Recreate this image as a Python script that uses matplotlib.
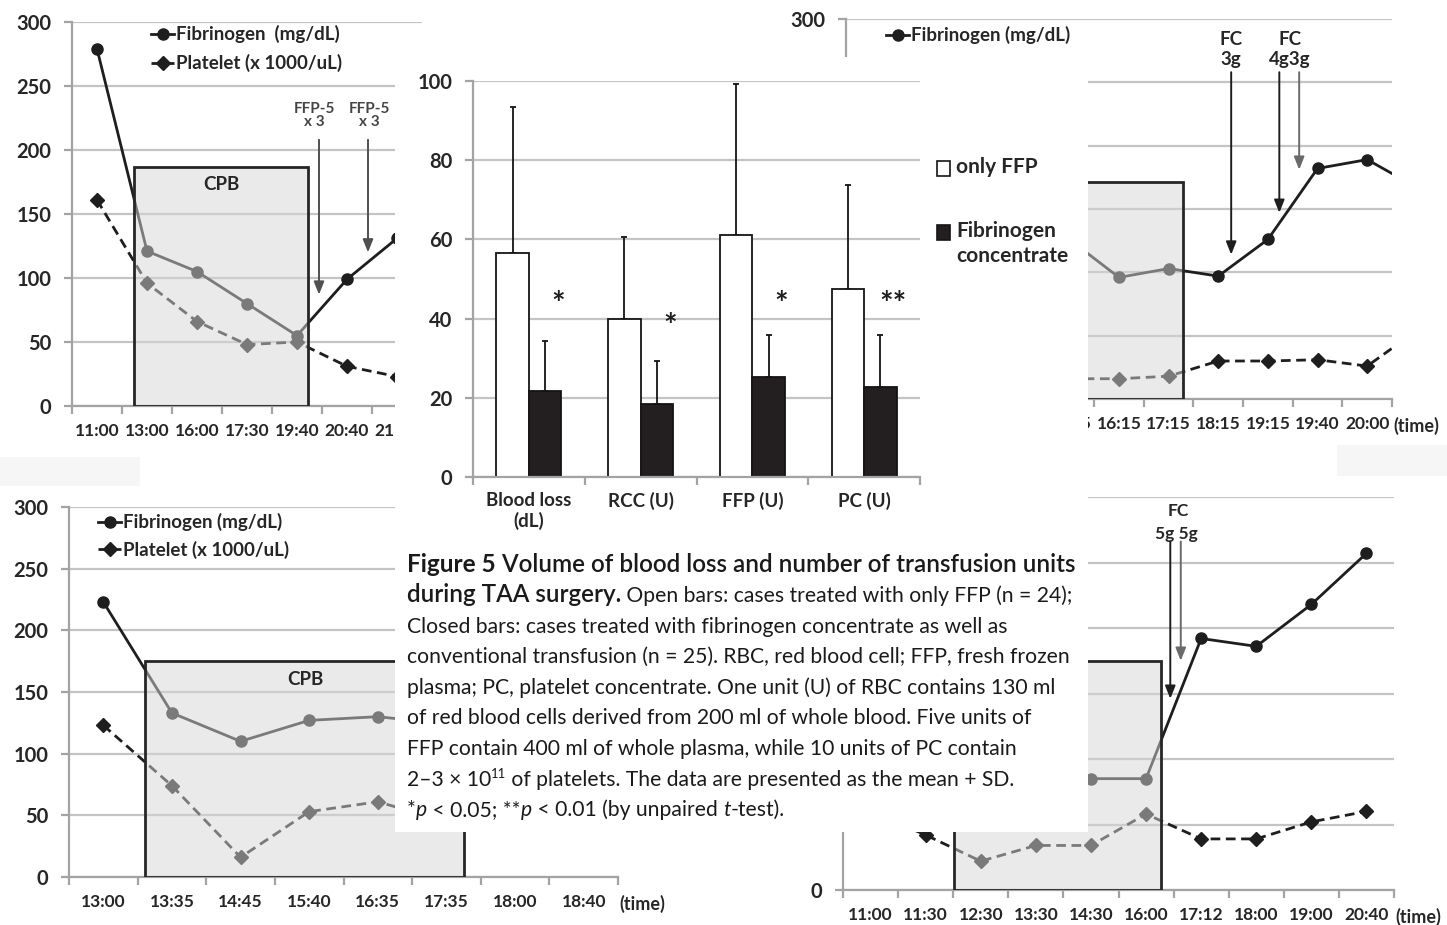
import numpy as np
import matplotlib
matplotlib.use("Agg")
import matplotlib.pyplot as plt
from matplotlib.patches import Rectangle

nan = np.nan
W, H, DPI = 1447, 925, 100

# ---------------- data ----------------
# Panel A (top-left)
a_times = ["11:00", "13:00", "16:00", "17:30", "19:40", "20:40", "21:00"]
a_fib = [279, 121, 105, 80, 55, 99, 131]
a_plt = [161, 96, 66, 48, 50, 31, 23]

# Panel B (top-right); first categories hidden behind the centre figure
b_times = ["", "", "", "", "15:15", "16:15", "17:15", "18:15", "19:15", "19:40", "20:00", ""]
b_fib = [nan, nan, nan, nan, 126, 96, 103, 97, 126, 182, 189, 167]
b_plt = [nan, nan, nan, nan, 16, 16, 18, 30, 30, 31, 26, 54]

# Panel C (bottom-left)
c_times = ["13:00", "13:35", "14:45", "15:40", "16:35", "17:35", "18:00", "18:40"]
c_fib = [223, 133, 110, 127, 130, 124, nan, nan]
c_plt = [123, 74, 16, 53, 61, 45, nan, nan]

# Panel D (bottom-right)
d_times = ["11:00", "11:30", "12:30", "13:30", "14:30", "16:00", "17:12", "18:00", "19:00", "20:40"]
d_fib = [nan, nan, nan, 85, 85, 85, 192, 186, 218, 257]
d_plt = [60, 42, 22, 34, 34, 58, 39, 39, 52, 60]

y_ticks = [0, 50, 100, 150, 200, 250, 300]

# Centre bar chart
bar_cats = ["Blood loss\n(dL)", "RCC (U)", "FFP (U)", "PC (U)"]
ffp_mean = [56.6, 40.0, 61.2, 47.5]
ffp_sd = [36.9, 20.5, 38.0, 26.2]
fc_mean = [21.8, 18.4, 25.3, 22.8]
fc_sd = [12.5, 10.9, 10.6, 13.1]
sig_marks = ["*", "*", "*", "**"]
sig_y = [45, 39.5, 45, 45]
bar_y_ticks = [0, 20, 40, 60, 80, 100]
series_labels = ["only FFP", "Fibrinogen\nconcentrate"]

# ---------------- style ----------------
plt.rcParams['font.family'] = ['Lato', 'DejaVu Sans']
GRID = '#c4c4c4'
SPINE = '#a3a3a3'
INK = '#1e1e1e'
TXT = '#262626'

fig = plt.figure(figsize=(W / DPI, H / DPI), dpi=DPI, facecolor='white')


def add_ax(l, t, r, b):
    return fig.add_axes([l / W, 1 - b / H, (r - l) / W, (b - t) / H])


def line_panel(ax, times, fib, plat, nvis, cpb, cpb_text=None, fib_label="Fibrinogen (mg/dL)",
               legend_xy=None, legend_spacing=0.8, show_plt_legend=True, ylab_show=None):
    x = np.arange(len(times))
    ax.set_xlim(-0.5, nvis - 0.5)
    ax.set_ylim(0, 300)
    ax.set_yticks(y_ticks, labels=[str(v) for v in y_ticks], fontweight='bold', color=TXT,
                  fontsize=14.5)
    ax.grid(axis='y', color=GRID, lw=1.6, zorder=0)
    ax.set_axisbelow(True)
    for s in ['top', 'right']:
        ax.spines[s].set_visible(False)
    for s in ['left', 'bottom']:
        ax.spines[s].set_color(SPINE)
        ax.spines[s].set_linewidth(1.6)
    ax.set_xticks(x[:nvis], labels=times[:nvis], fontweight='bold', color=TXT, fontsize=12.5)
    ax.set_xticks(np.arange(-0.5, nvis), minor=True)
    ax.tick_params(axis='x', which='major', length=0, pad=12)
    ax.tick_params(axis='x', which='minor', length=6, width=1.6, color=SPINE)
    ax.tick_params(axis='y', length=6, width=1.6, color=SPINE, pad=9)
    if ylab_show is not None:
        for tk, v in zip(ax.yaxis.get_major_ticks(), y_ticks):
            tk.label1.set_visible(v in ylab_show)
    l1, = ax.plot(x, fib, '-o', color=INK, lw=2, ms=8, zorder=2)
    l2, = ax.plot(x, plat, '--D', color=INK, lw=2, ms=7.5, zorder=2, dashes=(3.5, 2))
    x0, x1, top = cpb
    ax.add_patch(Rectangle((x0, 0), x1 - x0, top, facecolor='#d6d6d6', alpha=0.5,
                           edgecolor='none', zorder=3))
    ax.add_patch(Rectangle((x0, 0), x1 - x0, top, fill=False, edgecolor='#262626',
                           lw=2, zorder=3.2))
    if cpb_text is not None:
        ax.text(cpb_text[0], cpb_text[1], "CPB", ha='center', va='center', fontsize=13.5,
                fontweight='bold', color=TXT, zorder=4)
    if legend_xy is not None:
        hs, ls = [l1], [fib_label]
        if show_plt_legend:
            hs.append(l2)
            ls.append("Platelet (x 1000/uL)")
        ax.legend(hs, ls, loc='upper left',
                  bbox_to_anchor=(legend_xy[0] / W, 1 - legend_xy[1] / H),
                  bbox_transform=fig.transFigure, frameon=False, borderpad=0,
                  borderaxespad=0, handlelength=1.25, handletextpad=0.1,
                  labelspacing=legend_spacing, labelcolor=TXT,
                  prop=dict(weight='bold', size=13.5))
    ax.annotate('(time)', xy=(1, 0), xycoords='axes fraction', xytext=(1, -27),
                textcoords='offset pixels', ha='left', va='center', fontsize=13,
                fontweight='bold', color=TXT, annotation_clip=False)
    return ax


def arrow(ax, x, y0, y1, color):
    ax.annotate('', xy=(x, y1), xytext=(x, y0),
                arrowprops=dict(arrowstyle='-|>,head_length=0.55,head_width=0.22',
                                color=color, lw=1.4, shrinkA=0, shrinkB=0,
                                mutation_scale=14), zorder=5)


# ---- Panel A
axA = add_ax(72, 22, 422, 406)
line_panel(axA, a_times, a_fib, a_plt, 7, (0.74, 4.22, 187), cpb_text=(2.48, 173),
           fib_label="Fibrinogen  (mg/dL)", legend_xy=(151, 25), legend_spacing=0.6)
axA.texts[-1].set_visible(False)
arrow(axA, 4.44, 208, 87, '#505050')
arrow(axA, 5.42, 208, 120, '#505050')
for xx in (4.34, 5.44):
    axA.text(xx, 227, "FFP-5\nx 3", ha='center', va='center', fontsize=11,
             fontweight='bold', color='#444', linespacing=0.95)

# ---- Panel B
axB = add_ax(846, 19, 1392, 399)
line_panel(axB, b_times, b_fib, b_plt, 11, (1.3, 6.28, 171), fib_label="Fibrinogen (mg/dL)",
           legend_xy=(886, 26), show_plt_legend=False, ylab_show=[300])
arrow(axB, 7.26, 258, 114, '#1e1e1e')
arrow(axB, 8.23, 258, 147, '#1e1e1e')
arrow(axB, 8.63, 258, 181, '#6a6a6a')
axB.text(7.26, 276, "FC\n3g", ha='center', va='center', fontsize=13.5, fontweight='bold',
         color=TXT, linespacing=1.25)
axB.text(8.45, 276, "FC\n4g3g", ha='center', va='center', fontsize=13.5, fontweight='bold',
         color=TXT, linespacing=1.25)

# ---- Panel C
axC = add_ax(69, 507, 618, 877)
line_panel(axC, c_times, c_fib, c_plt, 8, (0.61, 5.25, 175), cpb_text=(2.94, 160),
           legend_xy=(98, 513), legend_spacing=0.5)

# ---- Panel D
axD = add_ax(843, 497, 1394, 890)
line_panel(axD, d_times, d_fib, d_plt, 10, (1.52, 5.27, 175), ylab_show=[0])
arrow(axD, 5.44, 266, 146, '#1e1e1e')
arrow(axD, 5.63, 266, 175, '#6a6a6a')
axD.text(5.58, 289, "FC", ha='center', va='center', fontsize=12.5, fontweight='bold', color=TXT)
axD.text(5.55, 272, "5g 5g", ha='center', va='center', fontsize=12.5, fontweight='bold', color=TXT)

# faint scan patches
for (l, t, r, b) in [(0, 457, 140, 486), (1337, 445, 1447, 476)]:
    fig.add_artist(Rectangle((l / W, 1 - b / H), (r - l) / W, (b - t) / H,
                             transform=fig.transFigure, facecolor='#f6f6f6',
                             edgecolor='none', zorder=0.5))

# ---- white overlay for the centre figure
fig.add_artist(Rectangle((395 / W, 1 - 832 / H), (1088 - 395) / W, (832 - 57) / H,
                         transform=fig.transFigure, facecolor='white', edgecolor='none',
                         zorder=1))

# ---- Centre bar chart
axb = add_ax(473, 81, 920, 477)
axb.set_zorder(2)
xg = np.arange(len(bar_cats))
w = 0.29
axb.bar(xg - w / 2, ffp_mean, w, color='white', edgecolor='#151515', lw=1.3, zorder=2)
axb.bar(xg + w / 2, fc_mean, w, color='#231f20', edgecolor='#151515', lw=1.3, zorder=2)
axb.errorbar(xg - w / 2, ffp_mean, yerr=[np.zeros(len(xg)), ffp_sd], fmt='none',
             ecolor='#151515', elinewidth=1.3, capsize=2.5, capthick=1.3, zorder=1.5)
axb.errorbar(xg + w / 2, fc_mean, yerr=[np.zeros(len(xg)), fc_sd], fmt='none',
             ecolor='#151515', elinewidth=1.3, capsize=2.5, capthick=1.3, zorder=1.5)
for xi, s, yy in zip(xg, sig_marks, sig_y):
    axb.annotate(s, (xi + 0.26, yy), xytext=(0, -12), textcoords='offset points',
                 ha='center', va='baseline', fontsize=23, fontweight='bold', color=INK)
axb.set_xlim(-0.5, len(bar_cats) - 0.5)
axb.set_ylim(0, 100)
axb.set_yticks(bar_y_ticks, labels=[str(v) for v in bar_y_ticks], fontweight='bold',
               color=TXT, fontsize=14.5)
axb.grid(axis='y', color=GRID, lw=1.6, zorder=0)
axb.set_axisbelow(True)
for s in ['top', 'right']:
    axb.spines[s].set_visible(False)
for s in ['left', 'bottom']:
    axb.spines[s].set_color(SPINE)
    axb.spines[s].set_linewidth(1.6)
axb.set_xticks(xg, labels=bar_cats, fontweight='bold', color=TXT, fontsize=13.5)
axb.set_xticks(np.arange(-0.5, len(bar_cats)), minor=True)
axb.tick_params(axis='x', which='major', length=0, pad=11)
axb.tick_params(axis='x', which='minor', length=6, width=1.6, color=SPINE)
axb.tick_params(axis='y', length=6, width=1.6, color=SPINE, pad=9)

# bar legend (manual) + caption layer in pixel coordinates
top_ax = fig.add_axes([0, 0, 1, 1])
top_ax.set_zorder(3)
top_ax.axis('off')
top_ax.patch.set_visible(False)
top_ax.set_xlim(0, W)
top_ax.set_ylim(H, 0)
for (yy, fc, lab) in [(168, 'white', series_labels[0]), (232, '#231f20', series_labels[1])]:
    top_ax.add_patch(Rectangle((937, yy - 7), 13, 15, facecolor=fc, edgecolor='#151515', lw=1.2))
    top_ax.text(956, yy - 11, lab, ha='left', va='top', fontsize=15, fontweight='bold',
                color=TXT, linespacing=1.3)

# ---- caption
cap_lines = [
    [("Figure 5", 'bold', 'normal', 0), (" Volume of blood loss and number of transfusion units", 'semibold', 'normal', 0)],
    [("during TAA surgery.", 'semibold', 'normal', 0), (" Open bars: cases treated with only FFP (n = 24);", 'normal', 'normal', 0)],
    [("Closed bars: cases treated with fibrinogen concentrate as well as", 'normal', 'normal', 0)],
    [("conventional transfusion (n = 25). RBC, red blood cell; FFP, fresh frozen", 'normal', 'normal', 0)],
    [("plasma; PC, platelet concentrate. One unit (U) of RBC contains 130 ml", 'normal', 'normal', 0)],
    [("of red blood cells derived from 200 ml of whole blood. Five units of", 'normal', 'normal', 0)],
    [("FFP contain 400 ml of whole plasma, while 10 units of PC contain", 'normal', 'normal', 0)],
    [("2\u20133 \u00d7 10", 'normal', 'normal', 0), ("11", 'normal', 'normal', 1),
     (" of platelets. The data are presented as the mean + SD.", 'normal', 'normal', 0)],
    [("*", 'normal', 'normal', 0), ("p", 'normal', 'italic', 0), (" < 0.05; **", 'normal', 'normal', 0),
     ("p", 'normal', 'italic', 0), (" < 0.01 (by unpaired ", 'normal', 'normal', 0),
     ("t", 'normal', 'italic', 0), ("-test).", 'normal', 'normal', 0)],
]
BASE = 14.0
cap_x0, cap_y0, cap_dy = 407, 571.5, 30.6
all_pieces = []
line_last = []
for i, line in enumerate(cap_lines):
    yb = cap_y0 + i * cap_dy
    prev = None
    for (txt, wt, st, sup) in line:
        fs = BASE * (0.62 if sup else 1.0)
        ys = yb - (8 if sup else 0)
        if prev is None:
            t = top_ax.annotate(txt, xy=(cap_x0, ys), xycoords='data', ha='left', va='baseline',
                                fontsize=fs, fontweight=wt, fontstyle=st, color='#1a1a1a',
                                annotation_clip=False)
        else:
            t = top_ax.annotate(txt, xy=(1, ys), xycoords=(prev, 'data'), ha='left', va='baseline',
                                fontsize=fs, fontweight=wt, fontstyle=st, color='#1a1a1a',
                                annotation_clip=False)
        all_pieces.append((t, wt != 'normal'))
        prev = t
    line_last.append(prev)

fig.canvas.draw()
r = fig.canvas.get_renderer()
# title pieces: fit first line to the reference width
w0 = line_last[0].get_window_extent(r).x1 - cap_x0
f_title = 671.0 / w0
# body pieces: fit the widest body line
wb = max(line_last[k].get_window_extent(r).x1 - cap_x0 for k in range(2, len(cap_lines)))
f_body = 666.0 / wb
for t, is_title in all_pieces:
    t.set_fontsize(t.get_fontsize() * (f_title if is_title else f_body))

fig.savefig("out.png", dpi=DPI, facecolor='white')
